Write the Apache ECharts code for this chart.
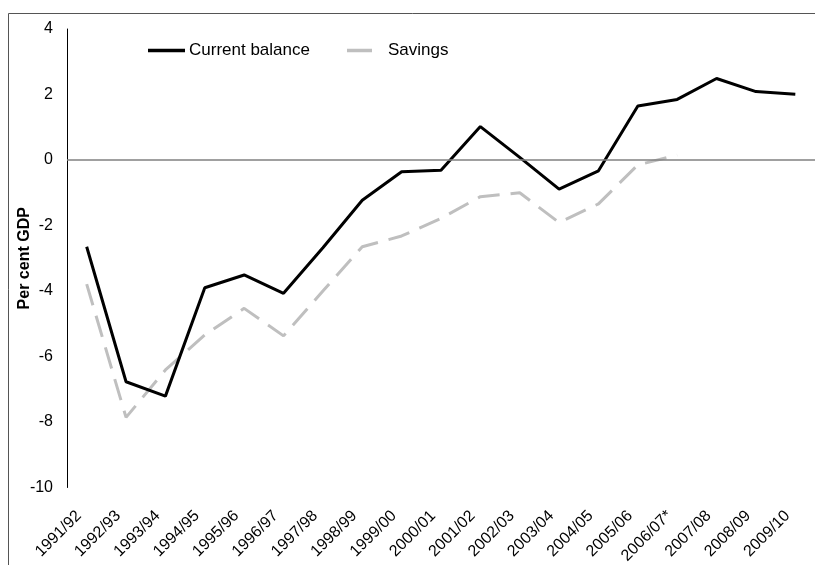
<!DOCTYPE html>
<html>
<head>
<meta charset="utf-8">
<script src="https://cdn.jsdelivr.net/npm/echarts@6/dist/echarts.min.js"></script>
<style>html,body{margin:0;padding:0;background:#fff;}#c{width:815px;height:565px;}</style>
</head>
<body>
<div id="c"></div>
<script>
var categories = ['1991/92','1992/93','1993/94','1994/95','1995/96','1996/97','1997/98','1998/99','1999/00','2000/01','2001/02','2002/03','2003/04','2004/05','2005/06','2006/07*','2007/08','2008/09','2009/10'];
var currentBalance = [-2.65,-6.77,-7.21,-3.90,-3.51,-4.07,-2.68,-1.23,-0.36,-0.31,1.02,0.08,-0.89,-0.33,1.65,1.85,2.49,2.09,2.01];
var savings = [-3.79,-7.86,-6.41,-5.34,-4.53,-5.37,-4.00,-2.65,-2.32,-1.78,-1.12,-1.00,-1.91,-1.34,-0.15,0.15,null,null,null];
var yTicks = {min:-10, max:4, interval:2};

var chart = echarts.init(document.getElementById('c'));
var font = 'Liberation Sans, Arial, sans-serif';
chart.setOption({
  animation:false,
  textStyle:{fontFamily:font},
  graphic:[{type:'rect',silent:true,shape:{x:8.5,y:13.5,width:1000,height:800},style:{fill:'none',stroke:'#555',lineWidth:1},z:-1}],
  legend:[
    {data:['Current balance'],left:148,top:42,padding:0,icon:'rect',itemWidth:37,itemHeight:3.5,textStyle:{fontSize:17,color:'#000',fontFamily:font,padding:[0,0,0,-1]}},
    {data:['Savings'],left:347,top:42,padding:0,icon:'rect',itemWidth:25,itemHeight:3.5,textStyle:{fontSize:17,color:'#000',fontFamily:font,padding:[0,0,0,11]}}
  ],
  grid:{left:67,right:0,top:29,bottom:77.5,containLabel:false,outerBoundsMode:'none'},
  xAxis:{type:'category',data:categories,boundaryGap:true,
    axisLine:{show:false},axisTick:{show:false},
    axisLabel:{rotate:45,fontSize:16,color:'#000',margin:18,interval:0,fontFamily:font,padding:[0,11,0,0]}},
  yAxis:{type:'value',min:yTicks.min,max:yTicks.max,interval:yTicks.interval,
    name:'Per cent GDP',nameLocation:'middle',nameGap:34,nameMoveOverlap:false,
    nameTextStyle:{fontSize:16,fontWeight:'bold',color:'#000',fontFamily:font},
    axisLine:{show:true,lineStyle:{color:'#000',width:1}},axisTick:{show:false},
    splitLine:{show:false},
    axisLabel:{fontSize:16,color:'#000',margin:14,fontFamily:font}},
  series:[
    {name:'Current balance',type:'line',data:currentBalance,symbol:'none',
      lineStyle:{color:'#000',width:3},itemStyle:{color:'#000'},z:3,
      markLine:{silent:true,symbol:'none',label:{show:false},
        lineStyle:{color:'#808080',width:1.5,type:'solid'},data:[{yAxis:0}]}},
    {name:'Savings',type:'line',data:savings,symbol:'none',connectNulls:false,
      lineStyle:{color:'#BFBFBF',width:3,type:[22,11]},itemStyle:{color:'#BFBFBF'},z:2}
  ]
});
</script>
</body>
</html>
